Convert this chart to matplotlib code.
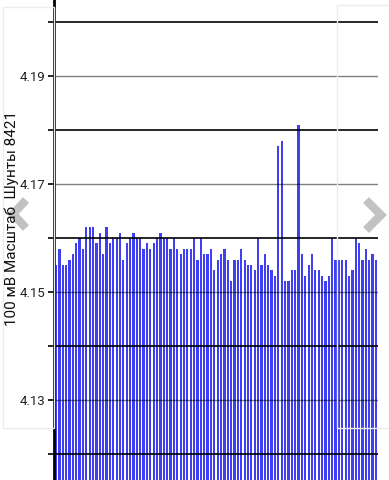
import matplotlib
matplotlib.use("Agg")
import matplotlib.pyplot as plt
from matplotlib.lines import Line2D
from matplotlib.patches import Rectangle
from matplotlib.ticker import FixedLocator

plt.rcParams['font.family'] = ['Roboto', 'DejaVu Sans']

# 数据：每个柱子的电压值 (V)
voltages = [
    4.155, 4.158, 4.155, 4.155, 4.156, 4.157, 4.159, 4.160, 4.158, 4.162,
    4.162, 4.162, 4.159, 4.161, 4.157, 4.162, 4.159, 4.160, 4.160, 4.161,
    4.156, 4.159, 4.160, 4.161, 4.160, 4.160, 4.158, 4.159, 4.158, 4.159,
    4.160, 4.161, 4.160, 4.160, 4.158, 4.160, 4.158, 4.157, 4.158, 4.158,
    4.158, 4.160, 4.156, 4.160, 4.157, 4.157, 4.158, 4.154, 4.156, 4.157,
    4.158, 4.156, 4.152, 4.156, 4.156, 4.158, 4.156, 4.155, 4.155, 4.154,
    4.160, 4.155, 4.157, 4.155, 4.154, 4.153, 4.177, 4.178, 4.152, 4.152,
    4.154, 4.154, 4.181, 4.157, 4.153, 4.155, 4.157, 4.154, 4.154, 4.153,
    4.152, 4.153, 4.160, 4.156, 4.156, 4.156, 4.156, 4.153, 4.154, 4.160,
    4.159, 4.156, 4.158, 4.156, 4.157, 4.156,
]
labeled_ticks = [4.13, 4.15, 4.17, 4.19]
unlabeled_ticks = [4.12, 4.14, 4.16, 4.18, 4.20]
ylabel_text = "100 мВ Масштаб  Шунты 8421"

W, H = 389, 480
fig = plt.figure(figsize=(W / 100, H / 100), dpi=100)

# 背景里淡淡的卡片边框（左右两张）
fig.patches.append(Rectangle((3 / W, 1 - 428 / H), 51 / W, 421 / H, transform=fig.transFigure,
                             fill=False, ec='#ececec', lw=1, zorder=0))
fig.patches.append(Rectangle((337 / W, 1 - 428 / H), 60 / W, 423 / H, transform=fig.transFigure,
                             fill=False, ec='#ececec', lw=1, zorder=0))

ax = fig.add_axes([54 / W, 0, 324 / W, 1])
ax.patch.set_alpha(0)

xx = range(len(voltages))
ax.bar(xx, voltages, width=0.66, color='#4040f2', zorder=1)

ax.set_xlim(-0.6, len(voltages) - 0.4)
ax.set_ylim(4.12 - 26 / 5400, 4.20 + 22 / 5400)

ax.yaxis.set_major_locator(FixedLocator(labeled_ticks))
ax.yaxis.set_minor_locator(FixedLocator(unlabeled_ticks))
ax.set_yticklabels(["%.2f" % t for t in labeled_ticks])
ax.tick_params(axis='y', which='both', length=4, width=1.2, color='black',
               labelsize=9.5, labelcolor='#222222', pad=2)
ax.tick_params(axis='x', bottom=False, labelbottom=False)

# 网格线画在柱子上面
ax.set_axisbelow(False)
ax.grid(axis='y', which='major', color='black', alpha=0.5, lw=1.0)
ax.grid(axis='y', which='minor', color='black', alpha=0.85, lw=1.4)

for s in ['top', 'right', 'bottom']:
    ax.spines[s].set_visible(False)
ax.spines['left'].set_linewidth(2)
ax.spines['left'].set_color('black')

fig.text(12 / W, 1 - 218 / H, ylabel_text, rotation=90, fontsize=11,
         color='#111111', ha='center', va='center')

# 左右翻页箭头
grey = '#b8b8b8'
fig.lines.append(Line2D([26 / W, 13 / W, 26 / W], [1 - 200 / H, 1 - 214 / H, 1 - 228 / H],
                        transform=fig.transFigure, color=grey, lw=6, alpha=0.85,
                        solid_capstyle='butt', solid_joinstyle='miter'))
fig.lines.append(Line2D([366 / W, 381 / W, 366 / W], [1 - 200 / H, 1 - 215 / H, 1 - 230 / H],
                        transform=fig.transFigure, color=grey, lw=6, alpha=0.85,
                        solid_capstyle='butt', solid_joinstyle='miter'))

fig.savefig("out.png", dpi=100)
